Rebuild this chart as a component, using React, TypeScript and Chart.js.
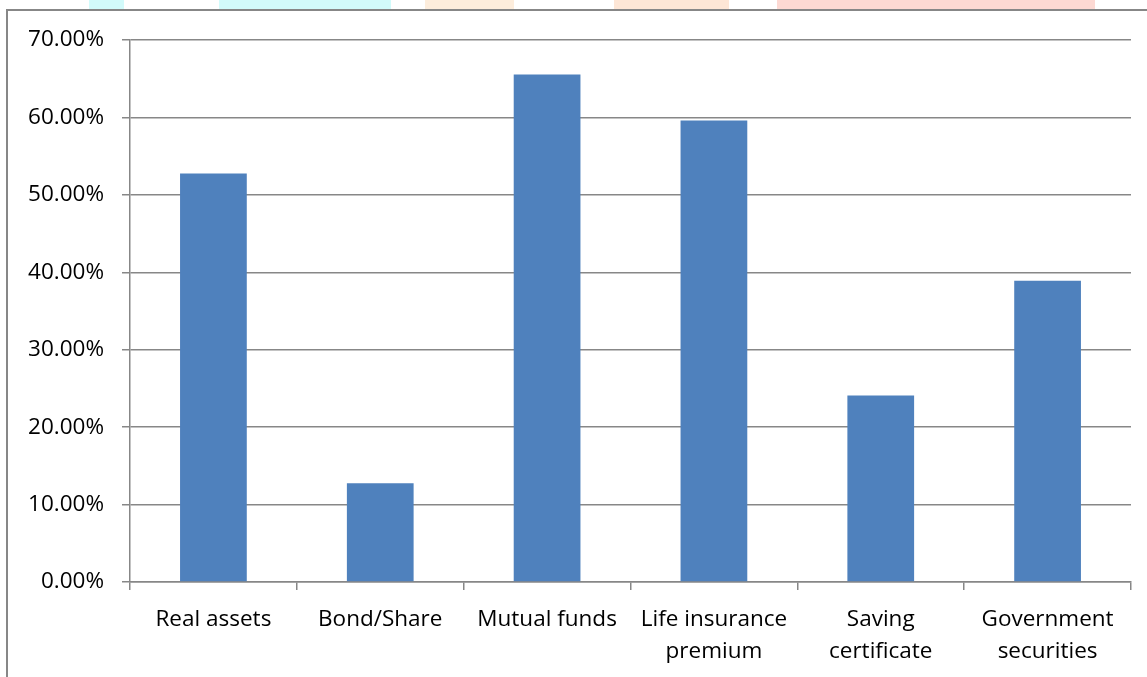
import React, { useEffect, useRef } from "react";
import { Chart, registerables } from "chart.js";

Chart.register(...registerables);

// Investment avenues and the share of respondents choosing each
const categories: string[][] = [
  ["Real assets"],
  ["Bond/Share"],
  ["Mutual funds"],
  ["Life insurance", "premium"],
  ["Saving", "certificate"],
  ["Government", "securities"],
];
const shares: number[] = [52.75, 12.75, 65.55, 59.6, 24.1, 38.9];
const yTicks: number[] = [0, 10, 20, 30, 40, 50, 60, 70];

const W = 1147;
const H = 677;
const FONT = "'Open Sans', 'Liberation Sans', sans-serif";

// Faint coloured strip along the very top and the outer frame lines
const framePlugin = {
  id: "frame",
  beforeDraw(chart: Chart) {
    const ctx = chart.ctx;
    ctx.save();
    ctx.fillStyle = "#ffffff";
    ctx.fillRect(0, 0, W, H);
    const bands: [number, number, string][] = [
      [89, 124, "#d2fbfb"],
      [219, 391, "#d2fbfb"],
      [425, 514, "#fdeddc"],
      [614, 729, "#fde6d6"],
      [777, 1095, "#fdd9d3"],
    ];
    for (const [x0, x1, c] of bands) {
      ctx.fillStyle = c;
      ctx.fillRect(x0, 0, x1 - x0, 9);
    }
    ctx.strokeStyle = "#878787";
    ctx.lineWidth = 2;
    ctx.beginPath();
    ctx.moveTo(W, 10);
    ctx.lineTo(7, 10);
    ctx.lineTo(7, H);
    ctx.stroke();
    ctx.restore();
  },
};

export default function App() {
  const ref = useRef<HTMLCanvasElement | null>(null);

  useEffect(() => {
    if (!ref.current) return;
    const chart = new Chart(ref.current, {
      type: "bar",
      data: {
        labels: categories,
        datasets: [
          {
            data: shares,
            backgroundColor: "#4f81bd",
            borderWidth: 0,
            barPercentage: 0.4,
            categoryPercentage: 1,
          },
        ],
      },
      options: {
        responsive: false,
        animation: false,
        layout: { padding: { top: 40, right: 16, left: 0, bottom: 0 } },
        plugins: {
          legend: { display: false },
          tooltip: { enabled: false },
        },
        scales: {
          x: {
            offset: true,
            grid: {
              display: true,
              drawOnChartArea: false,
              drawTicks: true,
              tickLength: 8,
              color: "#878787",
              lineWidth: 1.5,
              offset: true,
            },
            border: { display: true, color: "#878787", width: 1.5 },
            ticks: {
              color: "#000000",
              font: { family: FONT, size: 22.5, lineHeight: 1.4 },
              padding: 14,
              maxRotation: 0,
              autoSkip: false,
            },
            afterFit(scale: any) {
              scale.height = 95;
            },
          },
          y: {
            min: 0,
            max: 70,
            afterBuildTicks(scale: any) {
              scale.ticks = yTicks.map((v) => ({ value: v }));
            },
            grid: {
              color: "#878787",
              lineWidth: 1.5,
              tickLength: 8,
            },
            border: { display: true, color: "#878787", width: 1.5 },
            ticks: {
              color: "#000000",
              font: { family: FONT, size: 22.5 },
              padding: 18,
              callback: (v: any) => Number(v).toFixed(2) + "%",
            },
            afterFit(scale: any) {
              scale.width = 130;
            },
          },
        },
      },
      plugins: [framePlugin],
    });
    return () => chart.destroy();
  }, []);

  return (
    <div style={{ position: "fixed", left: 0, top: 0, width: W, height: H }}>
      <canvas ref={ref} width={W} height={H} style={{ display: "block" }} />
    </div>
  );
}
